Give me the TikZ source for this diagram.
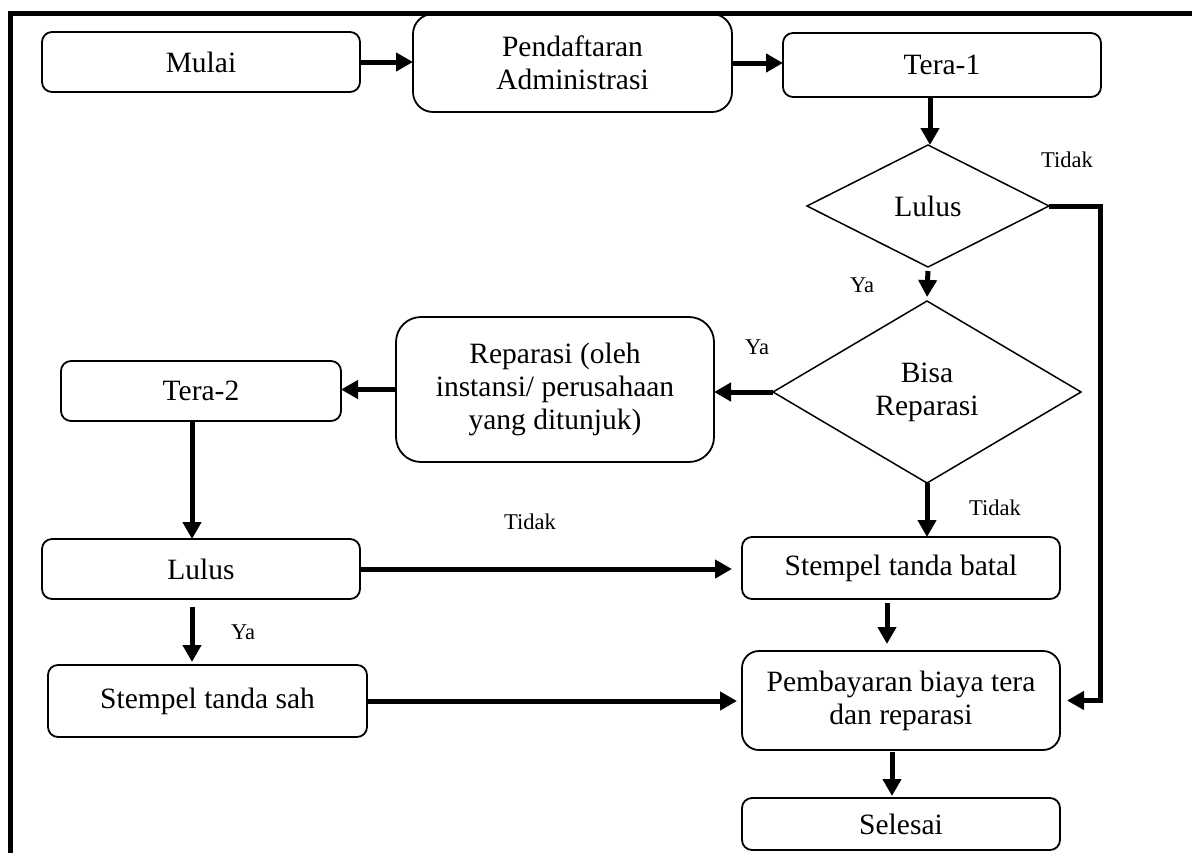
\documentclass[tikz,border=0pt]{standalone}
\usepackage{fontspec}
\setmainfont{Liberation Serif}
\usetikzlibrary{arrows.meta,shapes.geometric}
\begin{document}
\begin{tikzpicture}[x=1pt,y=-1pt,
  box/.style={draw, line width=1.8pt, rounded corners=10pt, inner sep=0pt, outer sep=0pt,
    align=center, font=\fontsize{29.5}{33}\selectfont},
  dec/.style={draw, diamond, line width=1.5pt, inner sep=0pt, outer sep=0pt,
    align=center, font=\fontsize{29.5}{33}\selectfont},
  flow/.style={line width=5pt, -{Triangle[length=17pt,width=18pt]}},
  lbl/.style={font=\fontsize{22.5}{26}\selectfont, inner sep=0pt}]
\useasboundingbox (0,0) rectangle (1192,852);
% frame
\draw[line width=5pt, line join=miter] (10.5,860) -- (10.5,13.5) -- (1200,13.5);

% nodes
\node[box, minimum width=318pt, minimum height=60pt] (mulai) at (201,62) {Mulai};
\node[box, rounded corners=20pt, minimum width=319pt, minimum height=98pt] (pend) at (572.5,63) {Pendaftaran\\Administrasi};
\node[box, minimum width=318pt, minimum height=64pt] (tera1) at (942,65) {Tera-1};
\node[dec, minimum width=242pt, minimum height=122pt] (lulus1) at (928,206) {Lulus};
\node[dec, minimum width=308pt, minimum height=182pt] (bisa) at (927,392) {Bisa\\Reparasi};
\node[box, rounded corners=25pt, minimum width=318pt, minimum height=145pt] (repar) at (555,389.5) {Reparasi (oleh\\instansi/ perusahaan\\yang ditunjuk)};
\node[box, minimum width=280pt, minimum height=60pt] (tera2) at (201,391) {Tera-2};
\node[box, minimum width=318pt, minimum height=60pt] (lulus2) at (201,569) {Lulus};
\node[box, minimum width=318pt, minimum height=62pt] (batal) at (901,568) {Stempel tanda batal};
\node[box, minimum width=319pt, minimum height=72pt] (sah) at (207.5,701) {Stempel tanda sah};
\node[box, rounded corners=17pt, minimum width=318pt, minimum height=99pt] (bayar) at (901,700.5) {Pembayaran biaya tera\\dan reparasi};
\node[box, minimum width=318pt, minimum height=52pt] (selesai) at (901,824) {Selesai};

% helper coordinates
\coordinate (rt) at (1100,0);
\coordinate (c1) at (192,0);
\coordinate (c2) at (930,0);
\coordinate (c3) at (887,0);
\coordinate (c4) at (892,0);

% connectors
\draw[flow] (mulai.east) -- (mulai.east -| pend.west);
\draw[flow] (pend.east) -- (pend.east -| tera1.west);
\draw[flow] (c2 |- tera1.south) -- (c2 |- lulus1.north);
\draw[flow, shorten <=4pt, shorten >=4pt] (lulus1.south) -- (bisa.north);
\draw[flow, shorten >=7pt, line join=miter]
  (lulus1.east) -- (lulus1.east -| rt) -- (rt |- bayar.east) -- (bayar.east);
\draw[flow] (bisa.west) -- (bisa.west -| repar.east);
\draw[flow] (repar.west) -- (repar.west -| tera2.east);
\draw[flow] (c1 |- tera2.south) -- (c1 |- lulus2.north);
\draw[flow, shorten <=8pt, shorten >=3pt] (c1 |- lulus2.south) -- (c1 |- sah.north);
\draw[flow] (bisa.south) -- (bisa.south |- batal.north);
\draw[flow, shorten >=10pt] (lulus2.east) -- (lulus2.east -| batal.west);
\draw[flow, shorten <=4pt, shorten >=7pt] (c3 |- batal.south) -- (c3 |- bayar.north);
\draw[flow, shorten >=5pt] (sah.east) -- (sah.east -| bayar.west);
\draw[flow, shorten <=2pt, shorten >=2pt] (c4 |- bayar.south) -- (c4 |- selesai.north);

% labels
\node[lbl] (t1) at (1067,160) {Tidak};
\node[lbl] (y1) at (862,285) {Ya};
\node[lbl] (y2) at (757,347) {Ya};
\node[lbl] (t2) at (530,522) {Tidak};
\node[lbl] (t3) at (995,508) {Tidak};
\node[lbl] (y3) at (243,632) {Ya};
\end{tikzpicture}
\end{document}
